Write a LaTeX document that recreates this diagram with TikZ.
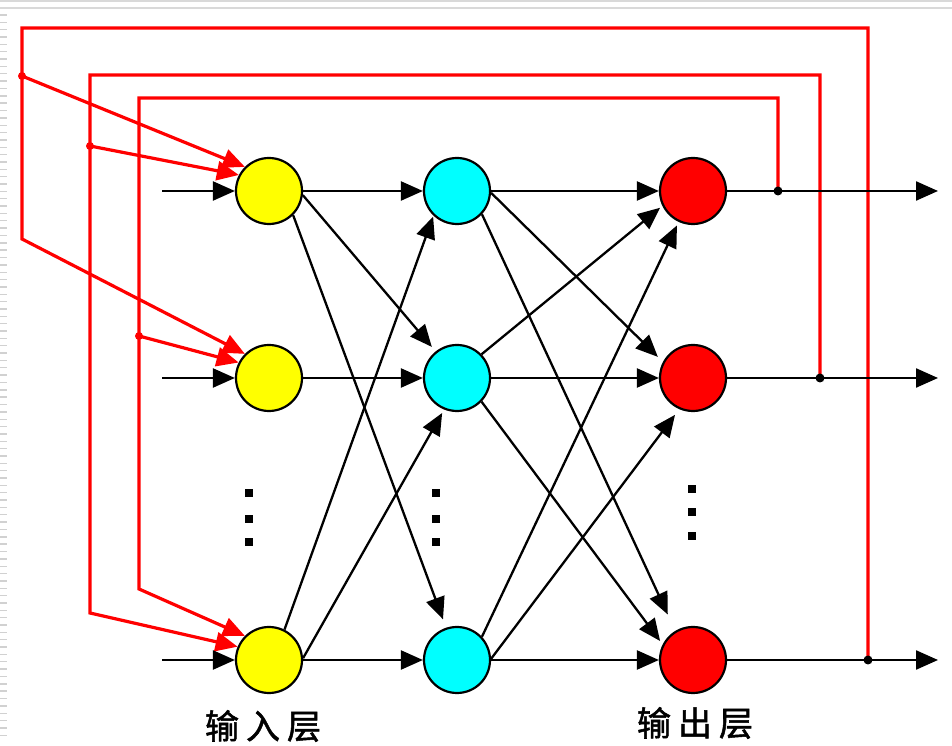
\documentclass[tikz,border=0pt]{standalone}
\usepackage{fontspec}
\newfontfamily\cjk[FakeBold=1.5]{Noto Sans CJK SC}
\usetikzlibrary{arrows.meta,calc}
\definecolor{nyellow}{RGB}{255,255,0}
\definecolor{ncyan}{RGB}{0,255,255}
\definecolor{nred}{RGB}{255,0,0}
\begin{document}
\begin{tikzpicture}[x=1pt,y=1pt,
  neuron/.style={circle,draw=black,line width=2.2pt,minimum size=66pt,inner sep=0pt},
  blk/.style={black,line width=2.3pt,-{Triangle[length=22pt,width=19pt]}},
  fbarrow/.style={nred,line width=3.2pt,line join=miter,-{Triangle[length=22pt,width=19pt]}},
  lab/.style={font=\cjk\fontsize{34}{34}\selectfont,inner sep=0pt},
  vdot/.style={fill=black}]
\useasboundingbox (0,0) rectangle (952,746);
\fill[white] (0,0) rectangle (952,746);
% screenshot edge artifacts
\draw[black!15,line width=1.5pt] (0,745) -- (952,745);
\draw[black!15,line width=1.5pt] (0,738) -- (952,738);
\foreach \k in {0,...,98} \draw[black!18,line width=1.4pt] (0,{731-7.35*\k}) -- (7,{731-7.35*\k});

% neurons
\node[neuron,fill=nyellow] (in1) at (269,555) {};
\node[neuron,fill=nyellow] (in2) at (269,368) {};
\node[neuron,fill=nyellow] (in3) at (269,86) {};
\node[neuron,fill=ncyan] (hid1) at (457,555) {};
\node[neuron,fill=ncyan] (hid2) at (457,368) {};
\node[neuron,fill=ncyan] (hid3) at (457,86) {};
\node[neuron,fill=nred] (out1) at (693,555) {};
\node[neuron,fill=nred] (out2) at (693,368) {};
\node[neuron,fill=nred] (out3) at (693,86) {};

% coordinates
\coordinate (s1) at (162,555);
\coordinate (s2) at (162,368);
\coordinate (s3) at (162,86);
\coordinate (e1) at (938,555);
\coordinate (e2) at (938,368);
\coordinate (e3) at (938,86);
\coordinate (j1) at (778,555);
\coordinate (j2) at (820,368);
\coordinate (j3) at (868,86);
\coordinate (d1) at (22,670);
\coordinate (d2) at (90,600);
\coordinate (d3) at (139,410);

% feedback (red)
\draw[fbarrow] (j3) -- (868,718) -- (22,718) -- (22,507) -- (in2.135);
\draw[fbarrow] (j2) -- (820,671) -- (90,671) -- (90,133) -- (in3.157);
\draw[fbarrow] (j1) -- (778,648) -- (139,648) -- (139,157) -- (in3.135);
\draw[fbarrow] (d1) -- (in1.135);
\draw[fbarrow] (d2) -- (in1.152);
\draw[fbarrow] (d3) -- (in2.153);
\fill[nred] (d1) circle (4);
\fill[nred] (d2) circle (4);
\fill[nred] (d3) circle (4);

% inputs and outputs
\draw[blk] (s1) -- (in1);
\draw[blk] (s2) -- (in2);
\draw[blk] (s3) -- (in3);
\draw[blk] (out1) -- (e1);
\draw[blk] (out2) -- (e2);
\draw[blk] (out3) -- (e3);
\fill (j1) circle (4.5);
\fill (j2) circle (4.5);
\fill (j3) circle (4.5);

% layer connections
\draw[blk] (in1) -- (hid1);
\draw[blk] (in2) -- (hid2);
\draw[blk] (in3) -- (hid3);
\draw[blk] (hid1) -- (out1);
\draw[blk] (hid2) -- (out2);
\draw[blk] (hid3) -- (out3);
\draw[blk] (in1.-7) -- ($(hid2)+(129:40)$);
\draw[blk] (in1.-45) -- ($(hid3)+(109:43)$);
\draw[blk] (in3.63) -- ($(hid1)+(227:35)$);
\draw[blk] (in3.3) -- ($(hid2)+(247:38)$);
\draw[blk] (hid1.-3) -- ($(out2)+(149:41)$);
\draw[blk] (hid1.-43) -- ($(out3)+(119:52)$);
\draw[blk] (hid2.44) -- ($(out1)+(207:37)$);
\draw[blk] (hid2.-44) -- ($(out3)+(150:38)$);
\draw[blk] (hid3.43) -- ($(out1)+(245:38)$);
\draw[blk] (hid3.2) -- ($(out2)+(244:41)$);

% ellipsis dots
\foreach \yy in {253,227,204} {
  \fill[vdot] (245,\yy-4) rectangle (253,\yy+4);
  \fill[vdot] (432,\yy-4) rectangle (440,\yy+4);
}
\foreach \yy in {257,234,210} {
  \fill[vdot] (688,\yy-4) rectangle (696,\yy+4);
}

% labels
\node[lab] (lab1) at (263,20) {输\hspace{7pt}入\hspace{7pt}层};
\node[lab] (lab2) at (695,23) {输\hspace{7pt}出\hspace{7pt}层};
\end{tikzpicture}
\end{document}
